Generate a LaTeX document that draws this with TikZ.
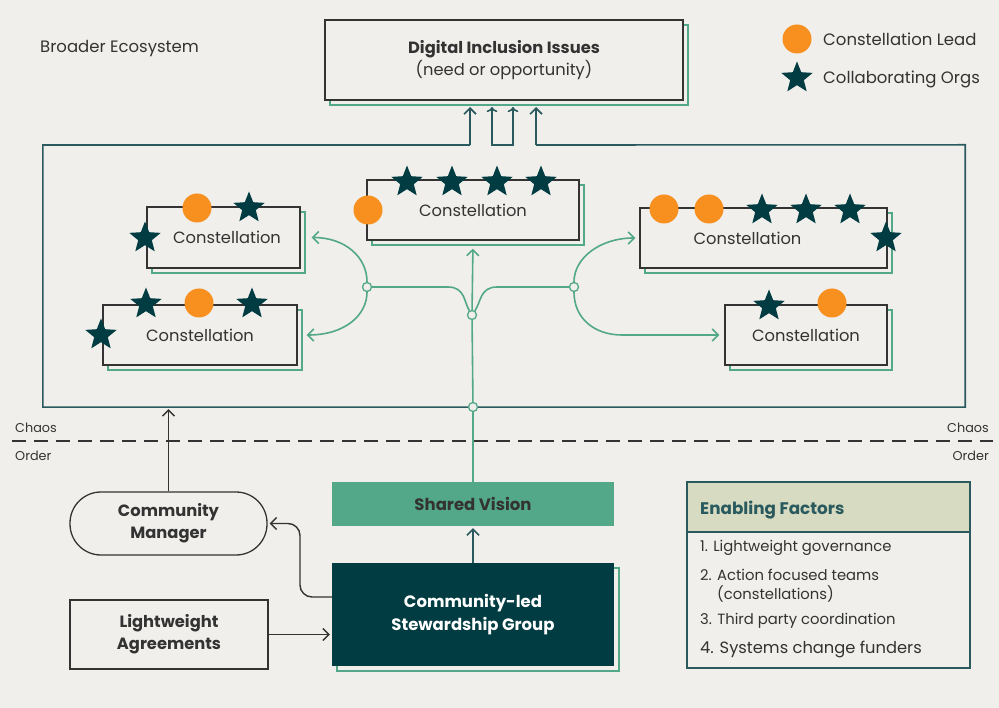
\documentclass[tikz,border=0pt]{standalone}
\usepackage{fontspec}
\setmainfont{Poppins}
\usetikzlibrary{arrows.meta, positioning, shapes.geometric, shadows}

\definecolor{paper}{HTML}{F0EFEB}
\definecolor{deepteal}{HTML}{003C41}
\definecolor{leafgreen}{HTML}{52A888}
\definecolor{leadorange}{HTML}{F7901E}
\definecolor{inkgray}{HTML}{333333}
\definecolor{sage}{HTML}{D6DBC2}
\definecolor{frameteal}{HTML}{2B5A5E}

\newcommand{\txt}[1]{\fontsize{#1pt}{\dimexpr #1pt*135/100\relax}\selectfont}

\begin{document}
\begin{tikzpicture}[
  x=1pt, y=-1pt,
  every node/.style={text=inkgray},
  gshadow/.style={general shadow={draw=leafgreen, line width=1.3pt, fill=none, rounded corners=4pt, shadow xshift=5pt, shadow yshift=-5pt}},
  conbox/.style={draw=inkgray, line width=1.3pt, fill=paper, inner sep=0pt, gshadow, font=\txt{16.3}},
  plainbox/.style={draw=inkgray, line width=1.3pt, fill=paper, align=center, font=\txt{16.3}},
  lead/.style={circle, fill=leadorange, minimum size=29pt, inner sep=0pt},
  org/.style={star, star points=5, star point ratio=2.3, fill=deepteal, minimum size=33pt, inner sep=0pt},
  hub/.style={circle, draw=leafgreen, fill=paper, line width=1.3pt, minimum size=9pt, inner sep=0pt},
  flow/.style={draw=leafgreen, line width=1.6pt},
  flowarr/.style={flow, -{Straight Barb[length=6pt, width=12pt]}},
  tealarr/.style={draw=frameteal, line width=1.6pt, -{Straight Barb[length=6pt, width=12pt]}},
  grayarr/.style={draw=inkgray, line width=1.4pt, -{Straight Barb[length=6pt, width=12pt]}},
  item/.style={anchor=west, font=\txt{14.8}, inner sep=0pt}
]
\fill[paper] (0,0) rectangle (999,708);

% labels and legend
\node[anchor=west, inner sep=0pt, font=\txt{16.5}] (broad) at (40,49) {Broader Ecosystem};
\node[lead] (keylead) at (797,39) {};
\node[anchor=west, inner sep=0pt, font=\txt{16.5}] (keyleadtxt) at (823,39) {Constellation Lead};
\node[org] (keyorg) at (797,78) {};
\node[anchor=west, inner sep=0pt, font=\txt{16.5}] (keyorgtxt) at (823,79) {Collaborating Orgs};

% issues box
\node[plainbox, gshadow, minimum width=358pt, minimum height=80pt] (dig) at (504,60)
  {\textbf{Digital Inclusion Issues}\\(need or opportunity)};

% ecosystem frame
\node[minimum width=922pt, minimum height=262pt, inner sep=0pt] (eco) at (504,276) {};
\coordinate (g1) at (470,145);
\coordinate (g2) at (492,145);
\coordinate (g3) at (513,145);
\coordinate (g4) at (536,145);
\draw[frameteal, line width=1.6pt] (g1) -| (eco.south west) -| (eco.north east) -- (g4);
\draw[tealarr] (g1) -- ++(0,-38);
\draw[tealarr] (g4) -- ++(0,-38);
\draw[tealarr, <->] ([yshift=38pt]g2) -- (g2) -- (g3) -- ([yshift=38pt]g3);

% constellations
\node[conbox, minimum width=153pt, minimum height=61pt] (c1) at (223.5,237.5) {\hspace*{7pt}Constellation};
\node[conbox, minimum width=194pt, minimum height=60pt] (c2) at (200,335) {Constellation};
\node[conbox, minimum width=212pt, minimum height=60pt] (c3) at (473,210) {Constellation};
\node[conbox, minimum width=247pt, minimum height=60pt] (c4) at (763.5,238) {Constellation\hspace*{32pt}};
\node[conbox, minimum width=162pt, minimum height=60pt] (c5) at (806,335) {Constellation};

% leads and orgs
\node[lead] (c1lead) at (197,208) {};
\node[org] (c1orga) at (249,208) {};
\node[org] (c1orgb) at (145,238) {};
\node[lead] (c2lead) at (199,303) {};
\node[org] (c2orga) at (146,304) {};
\node[org] (c2orgb) at (252,304) {};
\node[org] (c2orgc) at (101,335) {};
\node[lead] (c3lead) at (368,210) {};
\node[org] (c3orga) at (407,182) {};
\node[org] (c3orgb) at (452,182) {};
\node[org] (c3orgc) at (497,182) {};
\node[org] (c3orgd) at (541,182) {};
\node[lead] (c4leada) at (664,209) {};
\node[lead] (c4leadb) at (709,209) {};
\node[org] (c4orga) at (762,210) {};
\node[org] (c4orgb) at (806,210) {};
\node[org] (c4orgc) at (850,210) {};
\node[org] (c4orgd) at (886,238) {};
\node[org] (c5org) at (769,306) {};
\node[lead] (c5lead) at (832,303) {};

% chaos / order
\coordinate (lineL) at (12,441);
\coordinate (lineR) at (993,441);
\draw[inkgray, line width=1.3pt, dash pattern=on 14pt off 8pt] (lineL) -- (lineR);
\node[anchor=west, inner sep=0pt, font=\txt{12.8}] (chaosL) at (15,428) {Chaos};
\node[anchor=west, inner sep=0pt, font=\txt{12.8}] (orderL) at (15,456) {Order};
\node[anchor=east, inner sep=0pt, font=\txt{12.8}] (chaosR) at (989,428) {Chaos};
\node[anchor=east, inner sep=0pt, font=\txt{12.8}] (orderR) at (989,456) {Order};

% order side
\node[plainbox, rounded corners=31pt, minimum width=197pt, minimum height=63pt] (cm) at (168.5,523.5)
  {\textbf{Community}\\\textbf{Manager}};
\node[plainbox, minimum width=198pt, minimum height=69pt] (la) at (169,634.5)
  {\textbf{Lightweight}\\\textbf{Agreements}};
\node[fill=leafgreen, minimum width=282pt, minimum height=44pt, font=\txt{16.5}\bfseries] (sv) at (473,504) {Shared Vision};
\node[fill=deepteal, gshadow, minimum width=282pt, minimum height=103pt, align=center, text=white, font=\txt{16.5}\bfseries] (sg) at (473,614.5)
  {Community-led\\Stewardship Group};

% enabling factors
\node[draw=frameteal, line width=1.6pt, minimum width=283pt, minimum height=186pt] (ef) at (828.5,575) {};
\node[draw=frameteal, line width=1.6pt, fill=sage, anchor=north, minimum width=283pt, minimum height=50pt] (efhead) at (ef.north) {};
\node[anchor=west, inner sep=0pt, text=frameteal, font=\txt{16.8}\bfseries] (eftitle) at (700,510) {Enabling Factors};
\node[item] (ef1) at (700,548) {1. Lightweight governance};
\node[item] (ef2) at (700,575) {2. Action focused teams};
\node[item] (ef2b) at (717,594) {(constellations)};
\node[item] (ef3) at (700,621) {3. Third party coordination};
\node[item, font=\txt{16.3}] (ef4) at (700,649) {4. Systems change funders};

% green flows
\node[hub] (hbase) at (473,407) {};
\node[hub] (hmid) at (472,315) {};
\node[hub] (hleft) at (367,287) {};
\node[hub] (hright) at (574,287) {};
\draw[flow] (sv.north) -- (hbase);
\draw[flow] (hbase) -- (hmid);
\draw[flowarr, shorten >=8pt] (hmid) -- (c3.south);
\draw[flow] (hleft) -- (448,287) .. controls (465,287) and (464,302) .. (hmid);
\draw[flow] (hright) -- (497,287) .. controls (480,287) and (481,302) .. (hmid);
\draw[flowarr, shorten >=11pt] (hleft) .. controls (367,257) and (345,237.5) .. (c1.east);
\draw[flowarr, shorten >=9pt] (hleft) .. controls (367,315) and (345,335) .. (c2.east);
\draw[flowarr, shorten >=4pt] (hright) .. controls (574,258) and (600,238) .. (c4.west);
\draw[flowarr, shorten >=5pt] (hright) .. controls (574,318) and (594,335) .. (622,335) -- (c5.west);

% grey and teal arrows
\draw[grayarr, shorten >=2pt] (cm.north) -- (cm.north |- eco.south);
\draw[tealarr, shorten >=2pt] (sg.north) -- (sv.south);
\coordinate (bend) at (300,597);
\draw[grayarr, rounded corners=12pt, shorten >=2pt] ([yshift=17.5pt]sg.west) -- (bend) |- (cm.east);
\draw[grayarr, shorten >=2pt] (la.east) -- (la.east -| sg.west);
\end{tikzpicture}
\end{document}
